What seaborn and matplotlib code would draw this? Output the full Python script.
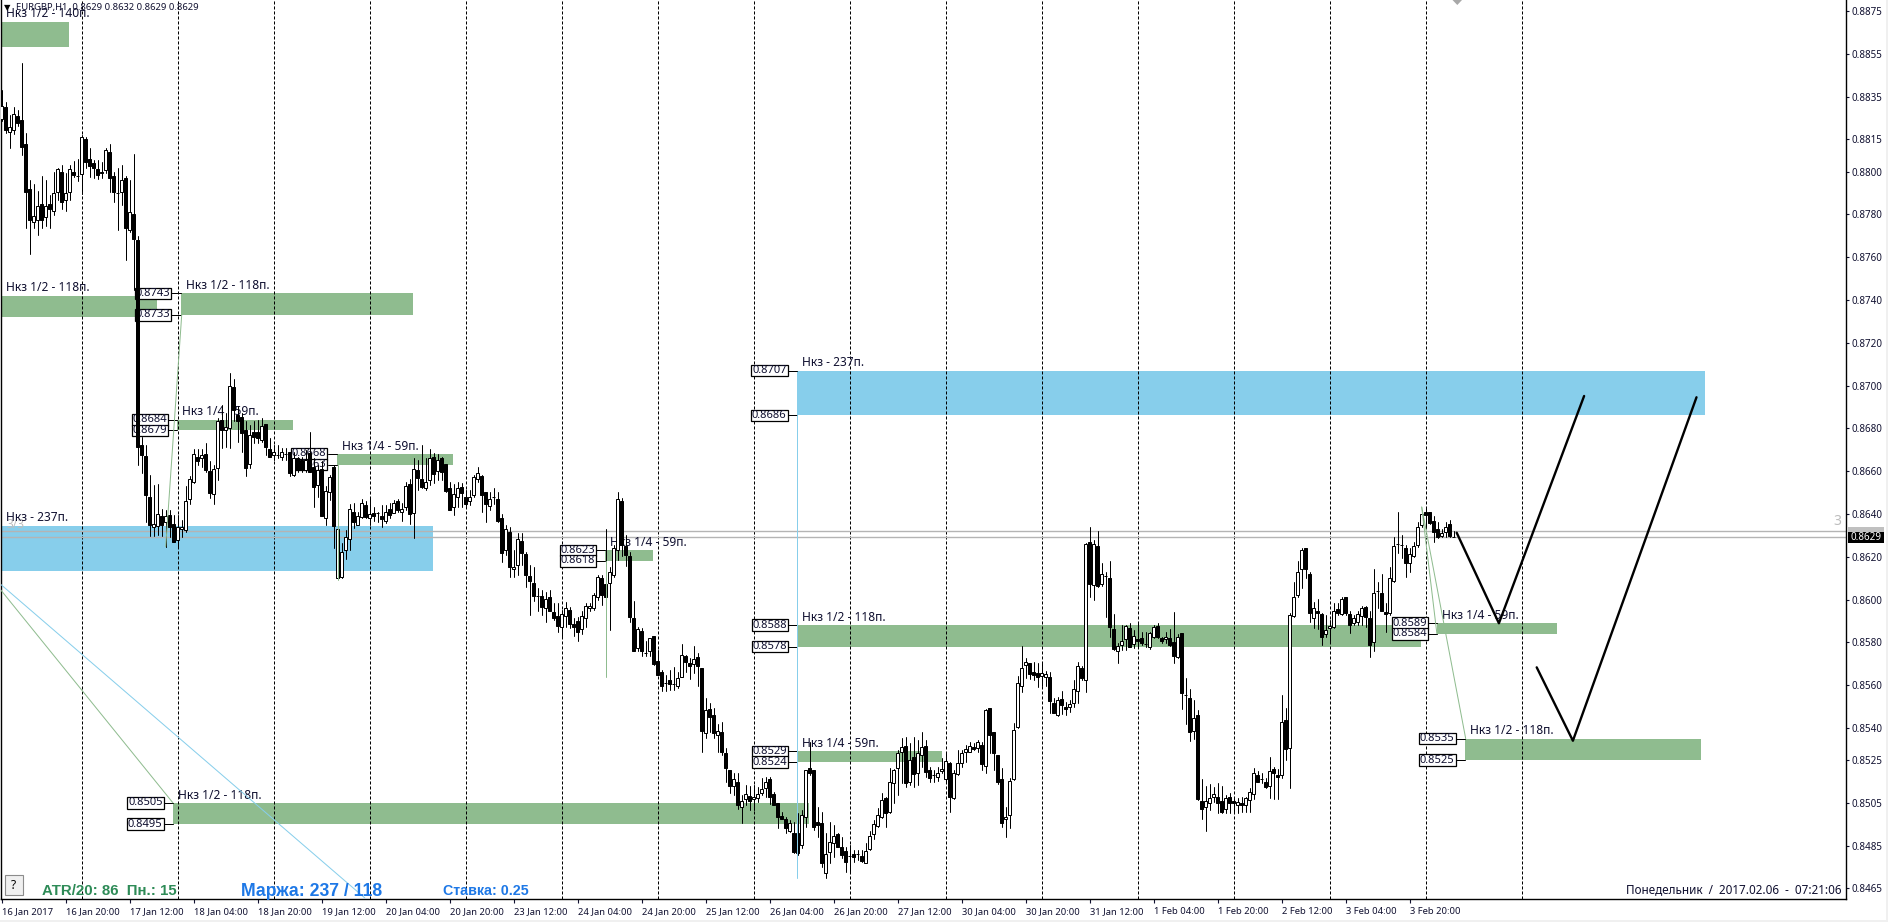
#!/usr/bin/env python3
import numpy as np
import pandas as pd
import seaborn as sns
import matplotlib
matplotlib.use("Agg")
import matplotlib.pyplot as plt
from matplotlib.patches import Rectangle, Polygon

# EURGBP H1 bars, in 1/10000 of the price
opens = [
    8824.4,8830.0,8818.4,8819.4,8825.9,8824.1,8812.8,8791.8,8776.5,8777.3,
    8784.6,8778.9,8784.6,8781.7,8790.6,8799.6,8786.7,8790.6,8799.8,8797.9,
    8798.7,8815.0,8805.8,8803.8,8801.2,8799.8,8800.7,8808.9,8797.9,8789.8,
    8790.6,8796.8,8772.6,8780.0,8768.0,8672.3,8667.1,8647.8,8634.1,8634.4,
    8638.8,8636.1,8639.5,8635.2,8627.9,8632.8,8632.5,8646.9,8654.8,8666.8,
    8666.0,8668.0,8660.1,8649.2,8661.3,8683.9,8679.3,8680.0,8699.2,8686.3,
    8685.5,8679.3,8663.2,8678.5,8678.2,8674.6,8682.1,8670.4,8667.6,8667.6,
    8666.8,8668.0,8668.8,8658.2,8666.0,8665.2,8660.6,8668.4,8662.1,8653.6,
    8660.9,8638.0,8650.1,8661.8,8609.9,8610.7,8622.9,8628.2,8640.8,8634.9,
    8638.4,8644.2,8638.0,8640.6,8640.3,8639.1,8636.9,8642.2,8640.6,8645.8,
    8640.8,8643.4,8654.0,8640.3,8660.3,8656.4,8652.0,8655.9,8666.8,8660.1,
    8666.0,8663.4,8652.0,8643.1,8647.8,8652.8,8647.8,8645.8,8648.9,8656.4,
    8657.9,8650.1,8643.9,8647.8,8646.9,8638.3,8622.9,8631.7,8614.1,8615.9,
    8627.4,8621.3,8611.0,8607.9,8601.7,8601.8,8595.9,8601.1,8594.0,8592.5,
    8587.0,8592.3,8595.1,8588.6,8590.0,8586.1,8591.2,8595.9,8595.9,8601.1,
    8610.2,8607.3,8607.9,8611.5,8622.9,8646.2,8625.0,8620.4,8591.2,8577.2,
    8585.3,8574.9,8576.1,8583.0,8571.3,8566.2,8560.9,8562.4,8560.5,8559.6,
    8564.0,8573.6,8570.5,8569.9,8573.0,8567.9,8537.8,8548.9,8546.1,8536.7,
    8538.0,8528.1,8520.3,8512.9,8514.9,8502.9,8506.8,8508.2,8506.6,8507.1,
    8509.4,8511.8,8516.0,8509.1,8505.1,8498.8,8497.3,8492.0,8490.7,8490.7,
    8485.3,8498.2,8521.1,8520.3,8496.2,8495.7,8472.1,8482.2,8486.1,8490.4,
    8484.2,8482.6,8480.2,8481.1,8481.1,8480.2,8477.0,8483.3,8490.3,8494.2,
    8498.2,8507.4,8500.9,8514.1,8521.1,8528.9,8531.7,8514.9,8526.6,8519.1,
    8527.4,8531.7,8520.3,8518.0,8516.9,8520.0,8516.0,8523.8,8507.1,8518.5,
    8523.5,8528.9,8528.9,8531.2,8530.8,8532.0,8522.2,8549.2,8538.0,8527.4,
    8516.1,8497.3,8499.3,8516.1,8540.3,8559.8,8569.3,8570.2,8566.0,8565.8,
    8564.3,8564.0,8564.0,8551.8,8545.9,8553.7,8549.9,8549.9,8551.8,8557.3,
    8567.9,8562.4,8627.1,8606.8,8625.0,8607.1,8611.0,8609.9,8586.1,8576.1,
    8578.8,8581.4,8586.9,8579.1,8581.6,8581.9,8579.2,8578.0,8582.7,8587.8,
    8581.9,8581.4,8581.9,8580.0,8573.0,8584.2,8555.4,8553.8,8538.7,8545.9,
    8506.0,8502.9,8505.1,8507.9,8507.9,8506.0,8502.0,8507.9,8506.0,8504.0,
    8504.8,8504.0,8506.3,8509.0,8518.0,8516.0,8514.9,8513.0,8520.7,8518.0,
    8518.0,8543.7,8530.8,8592.3,8602.1,8614.1,8624.0,8611.8,8591.2,8594.8,
    8593.3,8583.9,8586.9,8587.0,8595.6,8593.3,8601.1,8593.3,8588.9,8589.7,
    8592.3,8596.7,8591.2,8580.0,8604.0,8602.9,8594.0,8593.6,8608.8,8625.8,
    8625.5,8624.3,8617.0,8620.1,8625.5,8634.9,8640.8,8640.8,8636.9,8632.8,
    8629.9,8631.7,8635.2,8629.0,
]
closes = [
    8830.6,8819.4,8820.6,8826.7,8822.8,8811.6,8790.6,8777.3,8779.2,8783.9,
    8777.3,8783.9,8782.5,8789.8,8801.0,8785.9,8790.1,8801.0,8798.2,8797.9,
    8816.0,8804.4,8802.7,8801.5,8798.3,8799.4,8810.0,8796.8,8790.6,8789.8,
    8796.0,8773.6,8780.9,8768.6,8671.4,8667.6,8648.9,8634.9,8635.2,8639.8,
    8634.9,8638.8,8634.1,8627.1,8634.1,8634.1,8645.8,8656.4,8667.9,8664.9,
    8667.3,8660.6,8650.0,8660.9,8683.6,8679.0,8680.8,8699.8,8688.6,8683.2,
    8678.0,8661.3,8676.9,8676.1,8675.7,8681.1,8671.2,8666.8,8668.8,8667.6,
    8668.8,8668.0,8659.0,8666.0,8660.6,8660.6,8665.2,8659.8,8652.8,8660.6,
    8639.1,8650.9,8657.1,8634.4,8632.8,8622.1,8629.4,8642.2,8636.0,8639.1,
    8645.0,8638.4,8639.8,8638.8,8640.3,8637.8,8640.8,8639.5,8645.0,8641.9,
    8642.3,8653.1,8639.8,8660.9,8657.0,8652.8,8654.8,8666.0,8658.7,8665.2,
    8659.5,8650.8,8641.9,8649.2,8652.0,8650.0,8644.7,8647.8,8657.1,8659.0,
    8648.9,8644.7,8646.9,8647.8,8636.9,8621.9,8632.8,8615.1,8615.1,8628.2,
    8621.9,8611.5,8608.7,8601.7,8601.7,8596.5,8600.1,8594.8,8591.2,8587.7,
    8593.0,8595.8,8588.6,8587.3,8585.0,8592.3,8597.0,8597.0,8602.1,8610.7,
    8602.1,8601.1,8613.0,8624.0,8646.9,8625.5,8620.8,8592.0,8576.1,8586.1,
    8576.1,8574.9,8581.9,8569.7,8564.8,8559.6,8560.9,8560.5,8560.5,8563.2,
    8574.1,8571.0,8569.0,8572.1,8569.0,8538.7,8548.4,8545.0,8537.8,8538.7,
    8528.9,8521.1,8512.9,8516.0,8504.0,8506.0,8509.0,8506.0,8507.9,8509.0,
    8511.3,8514.9,8507.9,8504.0,8498.2,8497.4,8493.1,8495.7,8482.2,8481.4,
    8499.3,8520.3,8518.8,8493.9,8494.6,8476.7,8481.1,8486.9,8489.5,8484.5,
    8480.6,8477.5,8480.2,8479.8,8481.1,8478.0,8482.5,8489.5,8495.1,8499.3,
    8506.3,8500.1,8514.9,8520.3,8528.1,8530.9,8514.1,8525.0,8518.5,8528.1,
    8531.3,8519.6,8516.5,8518.0,8519.1,8521.0,8524.7,8507.9,8519.1,8523.8,
    8528.1,8530.0,8531.7,8530.0,8533.3,8523.0,8548.4,8536.7,8528.1,8514.9,
    8495.7,8498.5,8515.2,8539.0,8560.9,8567.9,8571.0,8565.1,8564.8,8564.0,
    8565.8,8565.2,8552.8,8547.1,8553.1,8550.7,8549.0,8551.2,8558.0,8569.1,
    8563.2,8626.0,8607.1,8625.8,8606.3,8611.8,8611.0,8587.0,8576.9,8578.5,
    8580.8,8587.8,8578.0,8583.0,8580.8,8579.9,8579.2,8584.2,8587.0,8582.7,
    8580.6,8582.7,8578.8,8573.8,8582.7,8556.2,8555.4,8538.0,8544.8,8506.8,
    8502.0,8506.0,8507.1,8509.0,8505.1,8500.9,8507.1,8505.1,8504.8,8505.5,
    8504.0,8507.1,8509.9,8519.1,8514.9,8516.0,8512.2,8520.0,8519.1,8516.9,
    8542.9,8530.0,8592.8,8601.1,8613.0,8623.2,8614.1,8593.9,8595.9,8593.6,
    8582.7,8585.8,8587.8,8594.8,8593.9,8600.1,8593.9,8588.1,8591.2,8593.3,
    8595.9,8592.0,8578.8,8602.9,8604.0,8594.8,8593.1,8609.9,8625.0,8625.8,
    8625.5,8617.0,8621.2,8625.0,8634.1,8639.8,8639.4,8635.6,8631.7,8629.1,
    8631.0,8634.1,8629.7,8629.0,
]
highs = [
    8838.1,8832.6,8826.4,8830.0,8828.7,8850.7,8817.8,8796.0,8794.0,8790.9,
    8797.9,8795.9,8789.0,8799.6,8801.5,8803.0,8799.1,8803.0,8804.9,8805.8,
    8817.0,8816.3,8810.8,8805.4,8805.4,8804.3,8810.8,8812.8,8799.6,8801.5,
    8803.0,8797.9,8796.0,8808.2,8770.0,8676.1,8672.3,8658.2,8653.6,8654.0,
    8642.2,8641.9,8641.9,8639.5,8639.5,8637.2,8653.1,8657.5,8670.4,8670.4,
    8670.4,8673.0,8664.5,8662.9,8684.7,8690.9,8687.1,8705.8,8703.1,8690.2,
    8687.1,8683.2,8681.6,8683.2,8683.9,8684.7,8682.1,8675.4,8672.3,8672.3,
    8670.7,8670.7,8669.1,8669.1,8666.8,8666.8,8669.9,8678.2,8666.0,8662.9,
    8664.5,8653.1,8658.2,8662.9,8632.8,8626.3,8632.5,8644.7,8645.0,8641.1,
    8646.9,8645.8,8647.3,8643.4,8641.1,8644.2,8644.2,8645.0,8646.5,8646.9,
    8645.0,8655.1,8656.2,8666.0,8665.2,8672.3,8666.0,8670.2,8668.4,8667.9,
    8666.8,8663.4,8655.1,8654.0,8654.8,8654.3,8651.2,8651.2,8658.2,8661.8,
    8658.2,8650.4,8650.4,8652.0,8650.4,8639.8,8634.9,8634.1,8623.2,8631.3,
    8631.0,8622.4,8616.2,8615.4,8605.3,8604.5,8603.7,8604.5,8598.2,8598.2,
    8595.1,8599.0,8596.7,8591.2,8592.0,8594.4,8598.6,8598.6,8602.9,8611.5,
    8611.5,8632.8,8615.1,8625.5,8650.1,8647.3,8630.2,8622.4,8599.5,8587.3,
    8586.6,8580.8,8581.9,8583.0,8576.4,8567.1,8564.8,8567.1,8568.3,8566.3,
    8579.2,8574.1,8572.5,8578.3,8574.9,8567.9,8553.8,8551.8,8549.2,8541.8,
    8542.9,8530.8,8520.3,8519.1,8519.1,8508.7,8513.3,8512.9,8513.3,8512.6,
    8516.5,8516.9,8516.9,8510.2,8505.1,8500.9,8498.5,8497.0,8496.2,8500.1,
    8501.7,8520.3,8533.6,8520.3,8503.2,8500.9,8490.7,8496.2,8494.6,8490.7,
    8489.2,8484.5,8485.3,8483.0,8483.0,8483.0,8486.1,8492.0,8497.0,8502.4,
    8509.4,8507.9,8521.1,8520.7,8529.7,8535.1,8535.9,8532.8,8535.9,8534.4,
    8538.0,8534.4,8521.9,8520.3,8521.9,8525.8,8528.9,8524.2,8520.3,8529.7,
    8529.7,8532.0,8533.6,8532.8,8534.4,8533.6,8548.9,8549.2,8538.0,8527.4,
    8521.1,8503.2,8516.5,8542.2,8564.3,8578.3,8572.5,8570.5,8571.0,8570.5,
    8570.2,8566.8,8566.3,8553.8,8554.6,8557.3,8552.3,8553.1,8562.4,8571.0,
    8569.0,8626.3,8634.1,8627.8,8632.0,8616.9,8613.0,8618.0,8593.1,8579.5,
    8588.1,8588.1,8589.2,8585.8,8589.7,8585.0,8585.0,8585.0,8588.1,8588.9,
    8582.7,8585.0,8586.1,8594.0,8583.9,8584.2,8563.2,8558.0,8553.1,8548.4,
    8516.0,8512.9,8513.8,8512.2,8514.1,8512.9,8508.7,8509.8,8507.9,8507.1,
    8507.9,8507.9,8511.8,8521.1,8520.0,8518.8,8516.5,8526.6,8521.9,8520.7,
    8555.4,8549.2,8593.6,8608.4,8618.0,8624.0,8624.0,8613.0,8599.0,8600.3,
    8593.9,8592.8,8590.5,8598.2,8598.6,8601.4,8601.4,8594.4,8592.8,8594.4,
    8597.0,8597.0,8594.4,8614.1,8608.4,8612.0,8598.6,8615.1,8629.4,8640.8,
    8630.2,8625.5,8624.0,8627.1,8636.4,8641.9,8642.6,8640.8,8638.8,8636.4,
    8632.8,8636.0,8637.2,8632.0,
]
lows = [
    8823.7,8817.8,8810.8,8817.5,8821.3,8807.7,8773.6,8761.4,8773.6,8770.3,
    8773.6,8774.5,8773.6,8779.6,8786.7,8782.3,8781.5,8786.7,8797.6,8795.5,
    8789.5,8801.8,8797.6,8797.1,8796.5,8796.8,8799.1,8790.6,8785.9,8772.6,
    8784.3,8758.6,8771.9,8744.6,8662.9,8659.0,8636.4,8629.7,8629.7,8630.2,
    8629.7,8624.7,8629.4,8627.1,8624.7,8629.4,8631.7,8644.7,8654.3,8662.9,
    8662.1,8659.8,8647.3,8644.7,8655.9,8670.7,8671.2,8670.7,8683.2,8673.8,
    8668.8,8657.9,8661.3,8673.0,8673.0,8673.8,8667.6,8666.8,8665.2,8666.0,
    8665.2,8665.2,8657.8,8657.8,8659.8,8659.8,8659.8,8659.8,8643.4,8648.1,
    8638.8,8634.9,8646.5,8624.0,8609.6,8609.9,8618.8,8623.2,8633.3,8634.6,
    8638.0,8638.0,8634.9,8636.9,8636.4,8634.1,8635.6,8638.0,8640.3,8641.1,
    8636.9,8641.9,8635.2,8628.9,8651.2,8652.0,8651.2,8653.6,8654.3,8655.9,
    8655.9,8650.4,8641.9,8639.5,8643.1,8643.4,8643.7,8644.2,8648.1,8655.1,
    8640.8,8636.0,8641.9,8644.7,8636.4,8617.7,8620.8,8610.7,8610.7,8611.5,
    8616.2,8606.0,8592.8,8599.5,8594.4,8592.8,8589.7,8594.4,8590.5,8585.0,
    8582.4,8587.3,8586.6,8583.0,8580.6,8583.9,8587.3,8594.4,8595.1,8599.8,
    8597.5,8600.6,8585.8,8610.7,8618.5,8620.1,8615.7,8589.7,8576.1,8576.1,
    8573.6,8573.6,8573.6,8569.3,8564.8,8557.4,8557.4,8557.7,8557.7,8558.5,
    8563.7,8566.3,8562.9,8565.8,8559.6,8528.9,8535.1,8538.3,8535.1,8528.9,
    8527.4,8514.9,8509.8,8508.7,8502.0,8495.7,8504.0,8501.7,8501.7,8505.5,
    8508.7,8507.9,8504.5,8504.0,8493.1,8497.3,8491.1,8491.5,8481.7,8480.6,
    8483.7,8493.9,8518.0,8492.3,8489.2,8475.2,8469.7,8476.7,8479.8,8484.5,
    8479.1,8472.8,8472.8,8477.5,8478.3,8477.5,8477.0,8483.0,8487.9,8493.9,
    8497.8,8493.9,8500.1,8504.8,8508.7,8514.1,8512.2,8513.3,8512.6,8513.3,
    8521.9,8517.2,8514.9,8514.9,8515.2,8518.8,8514.9,8500.9,8506.8,8518.0,
    8521.9,8524.2,8528.9,8529.7,8528.9,8520.3,8519.1,8528.1,8520.3,8513.8,
    8493.9,8489.2,8493.1,8515.7,8539.8,8557.0,8563.2,8562.9,8562.4,8559.0,
    8559.8,8559.6,8547.1,8547.1,8545.6,8546.5,8546.0,8547.6,8549.9,8551.8,
    8562.4,8557.0,8601.1,8599.8,8606.0,8606.3,8592.0,8582.7,8576.4,8570.2,
    8576.4,8576.4,8578.0,8577.2,8578.0,8578.8,8578.0,8576.9,8581.9,8581.9,
    8579.9,8579.6,8578.3,8570.2,8572.5,8548.9,8541.8,8534.1,8534.7,8506.3,
    8497.3,8492.0,8501.7,8505.5,8500.4,8500.4,8500.4,8500.4,8500.1,8500.1,
    8500.9,8500.9,8500.9,8506.6,8514.9,8514.1,8511.8,8507.1,8506.6,8506.6,
    8516.5,8525.0,8512.1,8592.0,8601.4,8605.3,8609.9,8589.7,8586.9,8586.1,
    8578.8,8582.7,8579.6,8586.6,8592.8,8592.8,8592.8,8584.2,8588.1,8588.1,
    8588.1,8587.3,8573.0,8576.1,8595.9,8594.4,8585.0,8592.8,8608.4,8621.6,
    8619.3,8610.7,8613.0,8619.7,8624.7,8634.1,8633.3,8635.3,8627.1,8628.6,
    8629.1,8629.4,8629.1,8629.0,
]

# supply/demand zones: first/last bar, top/bottom in 1/10000 of the price
zone_start = [-0.2, -0.2, 44.8, 43.9, 83.8, -0.2, 150.9, 198.8, 198.9, 198.9, 42.8, 358.9, 365.8]
zone_end = [16.8, 38.75, 102.8, 72.8, 112.8, 107.8, 162.8, 425.8, 354.8, 235.0, 201.8, 388.8, 424.8]
zone_high = [8870, 8742, 8743, 8684, 8668, 8634.5, 8623, 8707, 8588, 8529, 8505, 8589, 8535]
zone_low = [8858, 8732, 8733, 8679, 8663, 8613.5, 8618, 8686, 8578, 8524, 8495, 8584, 8525]
zone_text = ["Нкз 1/2 - 140п.", "Нкз 1/2 - 118п.", "Нкз 1/2 - 118п.", "Нкз 1/4 - 59п.", "Нкз 1/4 - 59п.",
             "Нкз - 237п.", "Нкз 1/4 - 59п.", "Нкз - 237п.", "Нкз 1/2 - 118п.", "Нкз 1/4 - 59п.",
             "Нкз 1/2 - 118п.", "Нкз 1/4 - 59п.", "Нкз 1/2 - 118п."]
zone_tagged = [False, False, True, True, True, False, True, True, True, True, True, True, True]
zone_blue = [False, False, False, False, False, True, False, True, False, False, False, False, False]

# thin trend lines: x0, y0, x1, y1
green_x0 = [41, 84, 151, 355, 355, -0.2]
green_y0 = [8624.7, 8663, 8618, 8643.2, 8643.2, 8604.4]
green_x1 = [45, 84, 151, 366, 358.8, 42.8]
green_y1 = [8732.9, 8609.1, 8563.9, 8535, 8584, 8505]
blue_x0 = [198.9, -0.2]
blue_y0 = [8686, 8607]
blue_x1 = [198.9, 90.8]
blue_y1 = [8469.9, 8460.5]

# hand drawn forecast
path_a_x = [363.75, 374.3, 395.6]
path_a_y = [8631.2, 8588.9, 8695.1]
path_b_x = [383.75, 392.8, 423.7]
path_b_y = [8568.3, 8534.0, 8694.5]

y_ticks = [0.8875, 0.8855, 0.8835, 0.8815, 0.8800, 0.8780, 0.8760, 0.8740, 0.8720, 0.8700, 0.8680,
           0.8660, 0.8640, 0.8620, 0.8600, 0.8580, 0.8560, 0.8540, 0.8525, 0.8505, 0.8485, 0.8465]
x_labels = ["16 Jan 2017", "16 Jan 20:00", "17 Jan 12:00", "18 Jan 04:00", "18 Jan 20:00", "19 Jan 12:00",
            "20 Jan 04:00", "20 Jan 20:00", "23 Jan 12:00", "24 Jan 04:00", "24 Jan 20:00", "25 Jan 12:00",
            "26 Jan 04:00", "26 Jan 20:00", "27 Jan 12:00", "30 Jan 04:00", "30 Jan 20:00", "31 Jan 12:00",
            "1 Feb 04:00", "1 Feb 20:00", "2 Feb 12:00", "3 Feb 04:00", "3 Feb 20:00"]
day_lines = list(range(20, 381, 24))
bid, ask = 0.8629, 0.8632

GREEN = "#8FBC8F"
BLUE = "#87CEEB"
PX = 0.72

sns.set_theme(style="white")
plt.rcParams["font.family"] = ["Noto Sans", "DejaVu Sans"]
plt.rcParams["lines.scale_dashes"] = False

W, H = 1888, 922
fig = plt.figure(figsize=(W / 100, H / 100), dpi=100, facecolor="white")
ax = fig.add_axes([1 / W, (H - 899) / H, 1845 / W, 899 / H])


def p(values):
    return np.asarray(values) / 1e4


df = pd.DataFrame({"bar": np.arange(len(opens)), "open": p(opens), "high": p(highs), "low": p(lows), "close": p(closes)})
wicks = df.melt(id_vars="bar", value_vars=["high", "low"], value_name="price")

for x0, x1, hi, lo, blue in zip(zone_start, zone_end, p(zone_high), p(zone_low), zone_blue):
    ax.add_patch(Rectangle((x0, lo), x1 - x0, hi - lo, color=BLUE if blue else GREEN, lw=0, zorder=1))

for d in day_lines:
    ax.axvline(d, color="black", lw=PX, ls=(0, (2.2, 1.4)), zorder=2)
ax.axhline(bid, color="#B4B4B4", lw=1.0, zorder=2)
ax.axhline(ask, color="#B4B4B4", lw=1.0, zorder=2)

# zone captions and the little price tags on their left
for x0, hi, lo, txt, tagged in zip(zone_start, p(zone_high), p(zone_low), zone_text, zone_tagged):
    left = max(x0, 0.0)
    ax.annotate(txt, xy=(left, hi), xytext=(3.4, 5.6), textcoords="offset points", fontsize=8.6,
                color="#101030", va="center", ha="left", zorder=3.2, annotation_clip=False)
    if not tagged:
        continue
    for level in (hi, lo):
        ax.plot([x0 - 2.35, x0], [level, level], color="black", lw=PX, zorder=3)
        ax.add_patch(Rectangle((x0 - 11.45, level - 0.00027), 9.1, 0.00054, fc="white", ec="black", lw=0.9, zorder=3))
        ax.text(x0 - 6.9, level, f"{level:.4f}", fontsize=8.0, ha="center", va="center", color="#101030", zorder=3.1)

# candles
sns.lineplot(data=wicks, x="bar", y="price", units="bar", estimator=None, color="black", lw=PX, legend=False, ax=ax, zorder=4)
up = df["close"] >= df["open"]
ax.bar(df["bar"], (df["close"] - df["open"]).abs(), bottom=df[["open", "close"]].min(axis=1), width=0.62,
       color=np.where(up, "white", "black"), edgecolor="black", linewidth=PX, zorder=4.1)

for x0, y0, x1, y1 in zip(green_x0, p(green_y0), green_x1, p(green_y1)):
    ax.plot([x0, x1], [y0, y1], color=GREEN, lw=PX, zorder=4.5)
for x0, y0, x1, y1 in zip(blue_x0, p(blue_y0), blue_x1, p(blue_y1)):
    ax.plot([x0, x1], [y0, y1], color=BLUE, lw=PX, zorder=4.5)

sns.lineplot(x=path_a_x, y=p(path_a_y), sort=False, color="black", lw=1.7, ax=ax, zorder=5)
sns.lineplot(x=path_b_x, y=p(path_b_y), sort=False, color="black", lw=1.7, ax=ax, zorder=5)

ax.set_xlim(-0.175, 461.075)
ax.set_ylim(0.846005, 0.888014)
ax.set_xlabel("")
ax.set_ylabel("")
ax.yaxis.tick_right()
ax.set_yticks(y_ticks, [f"{v:.4f}" for v in y_ticks])
ax.set_xticks(np.arange(len(x_labels)) * 16, x_labels, ha="left")
ax.tick_params(axis="y", length=2.5, width=0.8, pad=1.5, labelsize=7.1, colors="#101030", right=True, left=False)
ax.tick_params(axis="x", length=3, width=0.8, pad=2.5, labelsize=6.8, colors="#101030", bottom=True)
for side in ("left", "right", "bottom"):
    ax.spines[side].set_visible(True)
    ax.spines[side].set_color("black")
    ax.spines[side].set_linewidth(1.0)
ax.spines["top"].set_visible(False)

# current price tags on the axis
ax.add_patch(Rectangle((461.6, 0.86315), 9, 0.00025, fc="#C0C0C0", lw=0, clip_on=False, zorder=6))
ax.add_patch(Rectangle((461.6, 0.86265), 9, 0.0005, fc="black", lw=0, clip_on=False, zorder=6.5))
ax.text(466.1, 0.8629, "0.8629", color="white", fontsize=7.1, ha="center", va="center", zorder=7, clip_on=False)
ax.text(459, 0.86365, "3", color="#BDBDBD", fontsize=10, ha="center", va="center", zorder=7)
ax.text(1.2, 0.86352, "3/3", color="#BDBDBD", fontsize=8.6, ha="left", va="center", zorder=3.1)


def fx(px):
    return px / W


def fy(py):
    return 1 - py / H


# overlay text of the terminal
fig.text(fx(16), fy(7.5), "EURGBP,H1  0.8629 0.8632 0.8629 0.8629", fontsize=6.8, color="#101030", va="center")
fig.text(fx(7), fy(8), "▼", fontsize=6, color="black", va="center", ha="center", family="DejaVu Sans")
fig.text(fx(41.5), fy(891), "ATR/20: 86  Пн.: 15", fontsize=10.8, color="#2E8B57", fontweight="bold",
         family="Liberation Sans", va="center")
fig.text(fx(241), fy(891), "Маржа: 237 / 118", fontsize=12.7, color="#1E78E6", fontweight="bold",
         family="Liberation Sans", va="center")
fig.text(fx(443), fy(891), "Ставка: 0.25", fontsize=10.3, color="#1E78E6", fontweight="bold",
         family="Liberation Sans", va="center")
fig.text(fx(1841), fy(890), "Понедельник  /  2017.02.06  -  07:21:06", fontsize=8.45, color="#101030",
         va="center", ha="right")
fig.add_artist(Rectangle((fx(4.5), fy(895)), 18 / W, 20.5 / H, fc="#F0F0F0", ec="#8C8C8C", lw=0.8, transform=fig.transFigure))
fig.text(fx(13), fy(885), "?", fontsize=8.5, color="black", ha="center", va="center")

# small grey marker on the top edge, window edge
fig.add_artist(Polygon([(fx(1452.5), fy(0)), (fx(1462), fy(0)), (fx(1457.3), fy(5))], fc="#A8A8A8", lw=0, transform=fig.transFigure))
fig.add_artist(Rectangle((fx(1886), 0), 2 / W, 1, fc="#F0F0F0", lw=0, transform=fig.transFigure))
fig.add_artist(Rectangle((0, 0), 1, 2 / H, fc="#F0F0F0", lw=0, transform=fig.transFigure))

fig.savefig("out.png", dpi=100)
plt.close(fig)
